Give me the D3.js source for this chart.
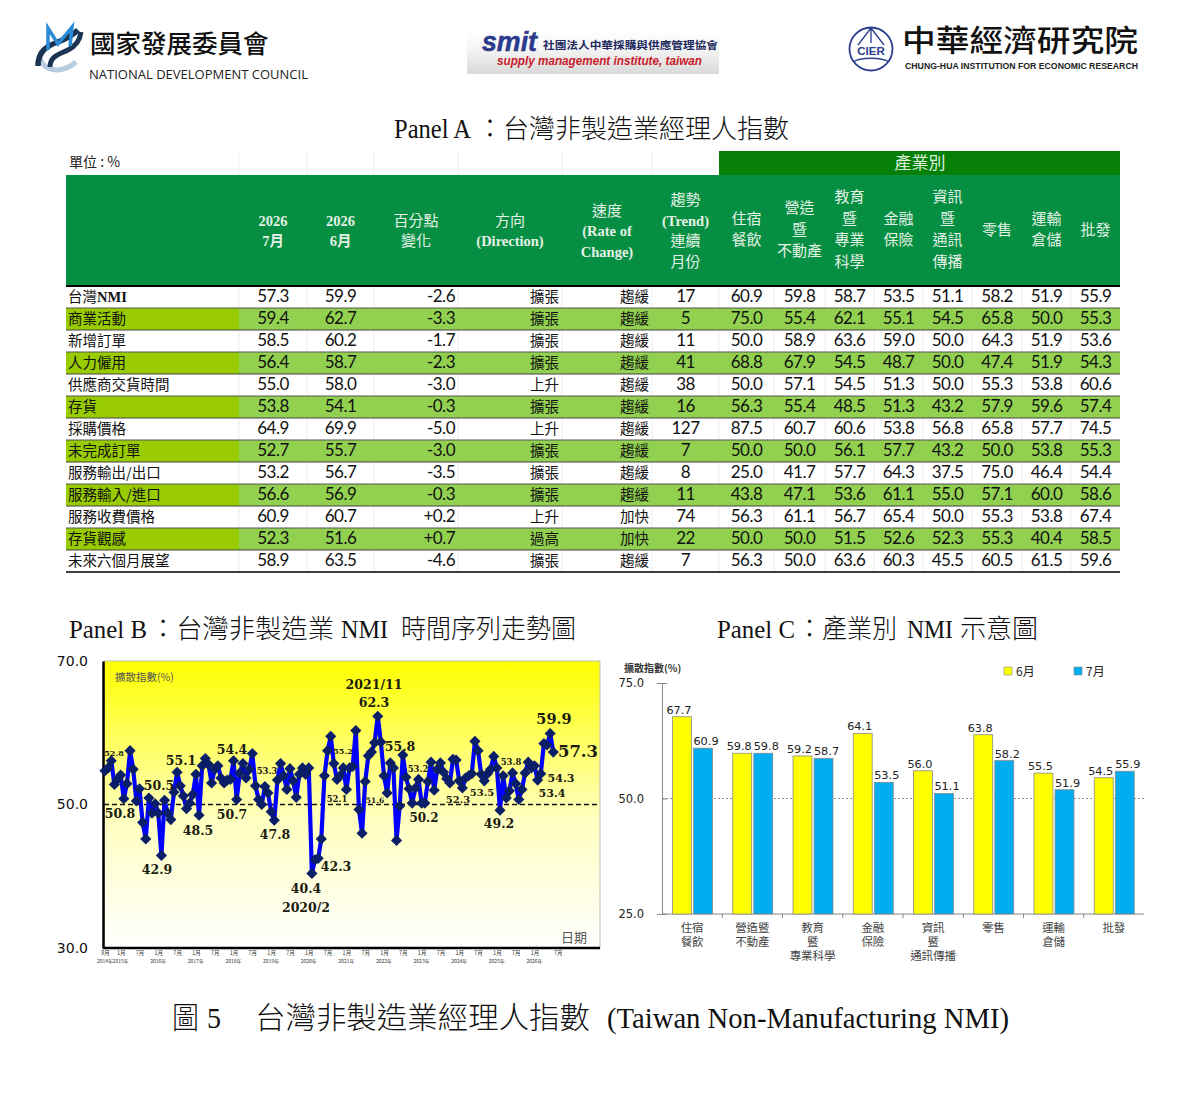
<!DOCTYPE html>
<html>
<head>
<meta charset="utf-8">
<script src="https://cdn.jsdelivr.net/npm/d3@7"></script>
<style>
  html, body { margin: 0; padding: 0; background: #fff; }
  svg { display: block; }
  text { font-family: "Noto Sans CJK TC", sans-serif; }
</style>
</head>
<body>
<svg width="1200" height="1098"></svg>
<script>
// ---- panel A data
const rowLabels = ["台灣NMI", "商業活動", "新增訂單", "人力僱用", "供應商交貨時間", "存貨", "採購價格", "未完成訂單", "服務輸出/出口", "服務輸入/進口", "服務收費價格", "存貨觀感", "未來六個月展望"];
const july = ["57.3", "59.4", "58.5", "56.4", "55.0", "53.8", "64.9", "52.7", "53.2", "56.6", "60.9", "52.3", "58.9"];
const june = ["59.9", "62.7", "60.2", "58.7", "58.0", "54.1", "69.9", "55.7", "56.7", "56.9", "60.7", "51.6", "63.5"];
const change = ["-2.6", "-3.3", "-1.7", "-2.3", "-3.0", "-0.3", "-5.0", "-3.0", "-3.5", "-0.3", "+0.2", "+0.7", "-4.6"];
const direction = ["擴張", "擴張", "擴張", "擴張", "上升", "擴張", "上升", "擴張", "擴張", "擴張", "上升", "過高", "擴張"];
const rate = ["趨緩", "趨緩", "趨緩", "趨緩", "趨緩", "趨緩", "趨緩", "趨緩", "趨緩", "趨緩", "加快", "加快", "趨緩"];
const trend = ["17", "5", "11", "41", "38", "16", "127", "7", "8", "11", "74", "22", "7"];
const accommodation = ["60.9", "75.0", "50.0", "68.8", "50.0", "56.3", "87.5", "50.0", "25.0", "43.8", "56.3", "50.0", "56.3"];
const construction = ["59.8", "55.4", "58.9", "67.9", "57.1", "55.4", "60.7", "50.0", "41.7", "47.1", "61.1", "50.0", "50.0"];
const education = ["58.7", "62.1", "63.6", "54.5", "54.5", "48.5", "60.6", "56.1", "57.7", "53.6", "56.7", "51.5", "63.6"];
const finance = ["53.5", "55.1", "59.0", "48.7", "51.3", "51.3", "53.8", "57.7", "64.3", "61.1", "65.4", "52.6", "60.3"];
const infoComm = ["51.1", "54.5", "50.0", "50.0", "50.0", "43.2", "56.8", "43.2", "37.5", "55.0", "50.0", "52.3", "45.5"];
const retail = ["58.2", "65.8", "64.3", "47.4", "55.3", "57.9", "65.8", "50.0", "75.0", "57.1", "55.3", "55.3", "60.5"];
const transport = ["51.9", "50.0", "51.9", "51.9", "53.8", "59.6", "57.7", "53.8", "46.4", "60.0", "53.8", "40.4", "61.5"];
const wholesale = ["55.9", "55.3", "53.6", "54.3", "60.6", "57.4", "74.5", "55.3", "54.4", "58.6", "67.4", "58.5", "59.6"];
const headerLines = [
  [""], ["2026", "7月"], ["2026", "6月"], ["百分點", "變化"], ["方向", "(Direction)"],
  ["速度", "(Rate of", "Change)"], ["趨勢", "(Trend)", "連續", "月份"],
  ["住宿", "餐飲"], ["營造", "暨", "不動產"], ["教育", "暨", "專業", "科學"], ["金融", "保險"],
  ["資訊", "暨", "通訊", "傳播"], ["零售"], ["運輸", "倉儲"], ["批發"]
];

// ---- panel B data, monthly from 2014/8 to 2026/7
const nmi = [
  54.7, 55.1, 56.1, 52.8, 53.5, 54.1, 50.8, 52.9, 57.5, 54.9, 50.5, 52.2,
  47.5, 45.2, 50.9, 48.8, 50.1, 48.8, 42.9, 50.6, 48.8, 47.9, 51.7, 54.5,
  52.6, 51.2, 49.4, 50.2, 51.4, 54.2, 48.5, 55.4, 56.4, 55.6, 53.0, 54.9,
  55.4, 53.7, 53.0, 53.4, 53.5, 56.1, 50.7, 54.4, 55.7, 53.7, 54.9, 57.1,
  52.6, 50.7, 50.0, 52.5, 51.6, 49.0, 47.8, 53.4, 55.7, 54.0, 52.1, 55.0,
  53.3, 51.0, 54.2, 55.1, 54.2, 55.1, 40.4, 42.3, 42.5, 45.2, 54.0, 57.5,
  59.5, 55.7, 53.5, 54.0, 55.1, 52.1, 55.1, 55.3, 60.3, 49.3, 46.0, 53.2,
  56.8, 57.3, 58.6, 62.3, 58.7, 54.0, 51.6, 55.8, 55.1, 45.0, 49.8, 56.9,
  53.8, 52.2, 50.2, 52.3, 53.5, 50.2, 50.2, 53.2, 55.9, 52.0, 54.9, 55.8,
  54.5, 53.6, 53.0, 56.3, 56.2, 53.3, 52.3, 53.7, 54.0, 54.3, 58.8, 57.5,
  54.2, 53.3, 54.3, 54.9, 56.7, 55.1, 49.2, 54.0, 50.9, 51.9, 54.4, 52.9,
  50.7, 52.1, 54.4, 55.9, 55.1, 55.4, 53.4, 54.3, 58.5, 58.3, 59.9, 57.3
];
const nmiTicks = [70, 50, 30];
const monthTickIdx = d3.range(5, 144, 6);
const yearTickIdx = [5, 17, 29, 41, 53, 65, 77, 89, 101, 113, 125, 137];
const yearTickText = ["2015年", "2016年", "2017年", "2018年", "2019年", "2020年", "2021年", "2022年", "2023年", "2024年", "2025年", "2026年"];
const noteText = ["52.8", "54.4", "55.1", "50.5", "50.8", "48.5", "50.7", "47.8", "42.9", "53.3", "40.4", "2020/2", "42.3", "2021/11", "62.3", "55.8", "55.2", "52.1", "51.6", "53.2", "50.2", "52.3", "53.5", "53.8", "49.2", "59.9", "57.3", "54.3", "53.4"];
// x, y, font size of the notes above
const noteLayout = [
  [114, 756, 8], [232, 754, 12.5], [181, 765, 12.5], [159, 790, 12.5], [120, 818, 12.5], [198, 835, 12.5],
  [232, 819, 12.5], [275, 839, 12.5], [157, 874, 12.5], [267, 774, 8.5], [306, 893, 12.5], [306, 912, 12.5],
  [336, 871, 12.5], [374, 689, 12.5], [374, 707, 12.5], [400, 751, 12.5], [343, 754, 8], [337, 802, 8.5],
  [375, 803, 7.5], [418, 772, 8.5], [424, 822, 12], [458, 803, 10], [482, 796, 10], [511, 765, 8.5],
  [499, 828, 12.5], [554, 724, 14.5], [578, 757, 16.5], [561, 782, 11], [552, 797, 11]
];

// ---- panel C data
const industries = [["住宿", "餐飲"], ["營造暨", "不動產"], ["教育", "暨", "專業科學"], ["金融", "保險"], ["資訊", "暨", "通訊傳播"], ["零售"], ["運輸", "倉儲"], ["批發"]];
const seriesNames = ["6月", "7月"];
const barJune = [67.7, 59.8, 59.2, 64.1, 56.0, 63.8, 55.5, 54.5];
const barJuly = [60.9, 59.8, 58.7, 53.5, 51.1, 58.2, 51.9, 55.9];
const barTicks = [75, 50, 25];

const serif = "'Liberation Serif', 'Noto Sans CJK TC', serif";
const svg = d3.select("svg");
const defs = svg.append("defs");

// ---- logos
const logos = svg.append("g");
const ndc = logos.append("g");
ndc.append("path").attr("d", "M40 58 C44 72 62 74 76 62").attr("fill", "none").attr("stroke", "#b9cde0").attr("stroke-width", 5);
ndc.append("path").attr("d", "M38 66 C38 52 46 46 58 42 C68 38 74 34 78 30").attr("fill", "none").attr("stroke", "#1c3454").attr("stroke-width", 5.5);
ndc.append("path").attr("d", "M50 67 C50 56 60 54 68 50 C76 46 80 40 81 32").attr("fill", "none").attr("stroke", "#1c3454").attr("stroke-width", 5);
ndc.append("path").attr("d", "M48 50 L48 28 L58 44 L72 27 L70 46").attr("fill", "none").attr("stroke", "#2a8bd8").attr("stroke-width", 3.5);
logos.append("text").attr("x", 90).attr("y", 53).attr("font-size", 25.5).attr("font-weight", 500).attr("fill", "#111").text("國家發展委員會");
logos.append("text").attr("x", 89).attr("y", 79).attr("font-size", 12.5).attr("textLength", 219).attr("lengthAdjust", "spacingAndGlyphs")
  .style("font-family", "'Open Sans'").attr("fill", "#222").text("NATIONAL DEVELOPMENT COUNCIL");

const smitFill = defs.append("linearGradient").attr("id", "smitFill").attr("x1", 0).attr("x2", 0).attr("y1", 0).attr("y2", 1);
smitFill.append("stop").attr("offset", "0%").attr("stop-color", "#ffffff");
smitFill.append("stop").attr("offset", "45%").attr("stop-color", "#f4f4f4");
smitFill.append("stop").attr("offset", "100%").attr("stop-color", "#d9d9d9");
logos.append("rect").attr("x", 467).attr("y", 30).attr("width", 252).attr("height", 44).attr("fill", "url(#smitFill)");
logos.append("text").attr("x", 482).attr("y", 51).attr("font-size", 27).attr("font-weight", 700).attr("font-style", "italic")
  .attr("textLength", 55).attr("lengthAdjust", "spacingAndGlyphs").style("font-family", "'Liberation Sans'")
  .attr("fill", "#2c3a8c").attr("stroke", "#2c3a8c").attr("stroke-width", 0.5).text("smit");
logos.append("text").attr("x", 543).attr("y", 49).attr("font-size", 10.5).attr("font-weight", 700)
  .attr("textLength", 175).attr("lengthAdjust", "spacingAndGlyphs").attr("fill", "#20285c").text("社團法人中華採購與供應管理協會");
logos.append("text").attr("x", 497).attr("y", 65).attr("font-size", 12).attr("font-weight", 700).attr("font-style", "italic")
  .attr("textLength", 205).attr("lengthAdjust", "spacingAndGlyphs").style("font-family", "'Liberation Sans'").attr("fill", "#c8202a").text("supply management institute, taiwan");

const cier = logos.append("g").attr("fill", "none").attr("stroke", "#2c3f8f");
cier.append("circle").attr("cx", 871).attr("cy", 49).attr("r", 21.5).attr("stroke-width", 1.8);
cier.append("path").attr("d", "M871 28 L858 45 M871 28 L884 45 M871 28 V43 M853 62 C860 57 882 57 889 62").attr("stroke-width", 1.3);
logos.append("text").attr("x", 871).attr("y", 55).attr("text-anchor", "middle").attr("font-size", 11.5).attr("font-weight", 700)
  .style("font-family", "'Liberation Sans'").attr("fill", "#2c3f8f").text("CIER");
logos.append("text").attr("x", 902).attr("y", 51).attr("font-size", 30).attr("font-weight", 500).attr("fill", "#111")
  .attr("textLength", 236).attr("lengthAdjust", "spacingAndGlyphs").text("中華經濟研究院");
logos.append("text").attr("x", 905).attr("y", 69).attr("font-size", 8.5).attr("font-weight", 700).style("font-family", "'Liberation Sans'")
  .attr("textLength", 233).attr("lengthAdjust", "spacingAndGlyphs").attr("fill", "#222").text("CHUNG-HUA INSTITUTION FOR ECONOMIC RESEARCH");

// ---- titles, each piece fitted to its own width
function title(y, size, pieces) {
  pieces.forEach(p => {
    svg.append("text").attr("x", p[0]).attr("y", y).attr("font-size", size)
      .attr("textLength", p[1]).attr("lengthAdjust", "spacingAndGlyphs")
      .style("font-family", serif).style("font-weight", 300).attr("fill", "#111").text(p[2]);
  });
}
title(138, 26.5, [[394, 77, "Panel A"], [477, 312, "：台灣非製造業經理人指數"]]);
title(638, 26, [[69, 78, "Panel B"], [150, 184, "：台灣非製造業"], [341, 47, "NMI"], [401, 175, "時間序列走勢圖"]]);
title(638, 26, [[717, 78, "Panel C"], [797, 100, "：產業別"], [907, 46, "NMI"], [960, 78, "示意圖"]]);
title(1028, 30, [[172, 27, "圖"], [207, 14, "5"], [255, 335, "台灣非製造業經理人指數"], [607, 402, "(Taiwan Non-Manufacturing NMI)"]]);

// ---- panel A table
const colEdges = [66, 239, 307, 374, 458, 562, 652, 719, 774, 825, 874, 923, 972, 1022, 1071, 1120];
const columns = [rowLabels, july, june, change, direction, rate, trend, accommodation, construction, education, finance, infoComm, retail, transport, wholesale];
const table = svg.append("g");
const rowY = d3.scaleBand().domain(d3.range(rowLabels.length)).range([286, 572]);

table.append("rect").attr("x", 719).attr("y", 151).attr("width", 401).attr("height", 24).attr("fill", "#078007");
table.append("rect").attr("x", 66).attr("y", 175).attr("width", 1054).attr("height", 111).attr("fill", "#068f42");
table.selectAll("line.unit").data(colEdges.slice(1, 7)).enter().append("line").attr("class", "unit")
  .attr("x1", d => d).attr("x2", d => d).attr("y1", 151).attr("y2", 175).attr("stroke", "#f0f0f0");
table.append("text").attr("x", 69).attr("y", 167).attr("font-size", 14).attr("fill", "#222").text("單位 : %");
table.append("text").attr("x", 920).attr("y", 169).attr("text-anchor", "middle").attr("font-size", 17).attr("fill", "#dff0df").text("產業別");

headerLines.forEach((lines, c) => {
  const cx = (colEdges[c] + colEdges[c + 1]) / 2;
  const gap = c > 6 ? 21.7 : 20.5;
  const mid = c > 6 ? 229.5 : 231;
  lines.forEach((s, k) => {
    const latin = /^[(A-Z0-9]/.test(s);
    table.append("text").attr("x", cx).attr("y", mid + (k - (lines.length - 1) / 2) * gap + 5)
      .attr("text-anchor", "middle")
      .attr("font-size", latin ? 14.5 : 15)
      .attr("font-weight", latin ? 700 : 400)
      .style("font-family", latin ? serif : "'Noto Sans CJK TC'")
      .attr("fill", "#e4f1e6").text(s);
  });
});

const rows = table.selectAll("g.row").data(rowLabels).enter().append("g").attr("class", "row")
  .attr("transform", (d, i) => `translate(0,${rowY(i)})`);
rows.append("rect").attr("x", 66).attr("width", 1054).attr("height", rowY.bandwidth())
  .attr("fill", (d, i) => (i % 2 ? "#92d050" : "#fff"));
rows.filter((d, i) => i % 2 === 1).append("rect").attr("x", 66).attr("width", 173).attr("height", rowY.bandwidth()).attr("fill", "#99cc00");
rows.filter((d, i) => i % 2 === 0).selectAll("line").data(colEdges.slice(1, 15)).enter().append("line")
  .attr("x1", d => d).attr("x2", d => d).attr("y1", 0).attr("y2", rowY.bandwidth()).attr("stroke", "#ececec");

columns.forEach((col, c) => {
  const anchor = c === 0 ? "start" : (c >= 3 && c <= 5 ? "end" : "middle");
  const x = c === 0 ? 68 : (c >= 3 && c <= 5 ? colEdges[c + 1] - 3 : (colEdges[c] + colEdges[c + 1]) / 2);
  const cjk = c === 0 || c === 4 || c === 5;
  rows.append("text").attr("x", x).attr("y", 15.8)
    .attr("text-anchor", anchor)
    .attr("font-size", cjk ? 14.5 : 17)
    .style("font-family", cjk ? "'Noto Sans CJK TC'" : "Lato")
    .style("letter-spacing", cjk ? null : "-0.5px")
    .attr("fill", "#111")
    .each(function(d, i) {
      const s = col[i];
      if (s === "台灣NMI") {
        d3.select(this).append("tspan").text("台灣");
        d3.select(this).append("tspan").style("font-family", serif).attr("font-weight", 700).text("NMI");
      } else {
        d3.select(this).text(s);
      }
    });
});
table.selectAll("line.rule").data(d3.range(1, rowLabels.length + 1)).enter().append("line").attr("class", "rule")
  .attr("x1", 66).attr("x2", 1120).attr("y1", d => rowY.step() * d + 286).attr("y2", d => rowY.step() * d + 286)
  .attr("stroke", d => (d === rowLabels.length ? "#000" : (d % 2 === 1 ? "#555" : "#444")))
  .attr("stroke-width", d => (d === rowLabels.length ? 1.5 : 1));
table.append("line").attr("x1", 66).attr("x2", 1120).attr("y1", 286).attr("y2", 286).attr("stroke", "#000").attr("stroke-width", 2);

// ---- panel B line chart
const bx = d3.scaleLinear().domain([0, 143]).range([105, 553.3]);
const by = d3.scaleLinear().domain([30, 70]).range([948, 661]);
const plotB = svg.append("g");
const yellowFade = defs.append("linearGradient").attr("id", "yellowFade").attr("x1", 0).attr("x2", 0).attr("y1", 0).attr("y2", 1);
yellowFade.append("stop").attr("offset", "0%").attr("stop-color", "#ffff00");
yellowFade.append("stop").attr("offset", "55%").attr("stop-color", "#ffffc0");
yellowFade.append("stop").attr("offset", "100%").attr("stop-color", "#ffffff");
plotB.append("rect").attr("x", 104).attr("y", 661).attr("width", 496).attr("height", 287)
  .attr("fill", "url(#yellowFade)").attr("stroke", "#bdbdbd");

const yAxisB = d3.axisLeft(by).tickValues(nmiTicks).tickSize(0).tickPadding(15).tickFormat(d3.format(".1f"));
const yAxisBG = plotB.append("g").attr("transform", "translate(103,0)").call(yAxisB);
yAxisBG.select(".domain").attr("stroke", "#000").attr("stroke-width", 2.5);
yAxisBG.selectAll("text").attr("font-size", 14).style("font-family", "'DejaVu Sans'").attr("fill", "#111");

plotB.append("line").attr("x1", 104).attr("x2", 600).attr("y1", by(50)).attr("y2", by(50))
  .attr("stroke", "#111").attr("stroke-width", 1.6).attr("stroke-dasharray", "5 3");

const monthAxis = d3.axisBottom(bx).tickValues([0].concat(monthTickIdx)).tickSize(0).tickPadding(3)
  .tickFormat(i => (i === 0 ? "8月" : ((i - 5) % 12 === 0 ? "1月" : "7月")));
const monthAxisG = plotB.append("g").attr("transform", "translate(0,948)").call(monthAxis);
monthAxisG.select(".domain").attr("stroke", "#000").attr("stroke-width", 2.5).attr("d", "M103,0H600");
monthAxisG.selectAll("text").attr("font-size", 5.5).attr("fill", "#333");
monthAxisG.selectAll(".tick").filter(i => i === 143).select("text").attr("dx", 4.5);
plotB.selectAll("text.year").data(yearTickIdx).enter().append("text").attr("class", "year")
  .attr("x", d => bx(d)).attr("y", 963).attr("text-anchor", "middle").attr("font-size", 5).attr("fill", "#333")
  .text((d, i) => yearTickText[i]);
plotB.append("text").attr("x", bx(0)).attr("y", 963).attr("text-anchor", "middle").attr("font-size", 5).attr("fill", "#333").text("2014年");

plotB.append("path").datum(nmi)
  .attr("fill", "none").attr("stroke", "#0000ff").attr("stroke-width", 4.2).attr("stroke-linejoin", "round")
  .attr("d", d3.line().x((d, i) => bx(i)).y(d => by(d)));
const diamond = d3.symbol().type(d3.symbolSquare).size(62);
plotB.selectAll("path.pt").data(nmi).enter().append("path").attr("class", "pt")
  .attr("d", diamond).attr("fill", "#0b1e68")
  .attr("transform", (d, i) => `translate(${bx(i)},${by(d)}) rotate(45)`);

plotB.selectAll("text.note").data(noteText).enter().append("text").attr("class", "note")
  .attr("x", (d, i) => noteLayout[i][0]).attr("y", (d, i) => noteLayout[i][1])
  .attr("text-anchor", "middle").attr("font-size", (d, i) => noteLayout[i][2]).attr("font-weight", 700)
  .style("font-family", "'DejaVu Serif'").attr("fill", "#1c1c10").text(d => d);
plotB.append("text").attr("x", 115).attr("y", 681).attr("font-size", 10.5).attr("fill", "#555").text("擴散指數(%)");
plotB.append("text").attr("x", 561).attr("y", 942).attr("font-size", 13).attr("fill", "#555").text("日期");

// ---- panel C bars
const cx = d3.scaleBand().domain(d3.range(industries.length)).range([662, 1144]);
const cInner = d3.scaleBand().domain(seriesNames).range([10.5, 50.5]).paddingInner(0.1);
const cy = d3.scaleLinear().domain([25, 75]).range([914, 683]);
const colors = d3.scaleOrdinal().domain(seriesNames).range(["#ffff00", "#00aeef"]);
const plotC = svg.append("g");

const yAxisC = d3.axisLeft(cy).tickValues(barTicks).tickSize(5).tickPadding(13).tickFormat(d3.format(".1f"));
const yAxisCG = plotC.append("g").attr("transform", "translate(662,0)").call(yAxisC);
yAxisCG.selectAll(".domain, line").attr("stroke", "#888");
yAxisCG.selectAll("line").attr("x1", 0).attr("x2", 5);
yAxisCG.selectAll("text").attr("font-size", 11.5).style("font-family", "'DejaVu Sans'").attr("fill", "#222");

plotC.append("line").attr("x1", 662).attr("x2", 1144).attr("y1", cy(50)).attr("y2", cy(50))
  .attr("stroke", "#777").attr("stroke-width", 0.8).attr("stroke-dasharray", "2 2");

const catAxis = plotC.append("g").attr("transform", "translate(0,914)");
catAxis.append("line").attr("x1", 662).attr("x2", 1144).attr("stroke", "#888").attr("stroke-width", 1.2);
catAxis.selectAll("line.tick").data(d3.range(1, industries.length)).enter().append("line").attr("class", "tick")
  .attr("x1", d => cx(d)).attr("x2", d => cx(d)).attr("y1", 0).attr("y2", 4).attr("stroke", "#888");

[barJune, barJuly].forEach((vals, s) => {
  const name = seriesNames[s];
  const g = plotC.append("g");
  g.selectAll("rect").data(vals).enter().append("rect")
    .attr("x", (d, i) => cx(i) + cInner(name))
    .attr("y", d => cy(d))
    .attr("width", cInner.bandwidth())
    .attr("height", d => cy(25) - cy(d))
    .attr("fill", colors(name)).attr("stroke", "#8a8a8a").attr("stroke-width", 0.8);
  g.selectAll("text").data(vals).enter().append("text")
    .attr("x", (d, i) => cx(i) + cInner(name) + cInner.bandwidth() / 2 + (s ? 3 : -3))
    .attr("y", d => cy(d) - 3)
    .attr("text-anchor", "middle").attr("font-size", 11.3).style("font-family", "'DejaVu Sans'").attr("fill", "#222")
    .text(d => d3.format(".1f")(d));
});

industries.forEach((lines, i) => {
  lines.forEach((s, k) => {
    plotC.append("text").attr("x", cx(i) + cx.bandwidth() / 2).attr("y", 932 + k * 14.2)
      .attr("text-anchor", "middle").attr("font-size", 11.5).attr("fill", "#444").text(s);
  });
});

plotC.append("text").attr("x", 624).attr("y", 672).attr("font-size", 10).attr("font-weight", 700).attr("fill", "#333").text("擴散指數(%)");
const legend = plotC.selectAll("g.legend").data(seriesNames).enter().append("g").attr("class", "legend")
  .attr("transform", (d, i) => `translate(${1004 + i * 70},667)`);
legend.append("rect").attr("width", 8).attr("height", 8).attr("fill", d => colors(d)).attr("stroke", "#888").attr("stroke-width", 0.6);
legend.append("text").attr("x", 12).attr("y", 9).attr("font-size", 12).attr("fill", "#222").text(d => d);
</script>
</body>
</html>
